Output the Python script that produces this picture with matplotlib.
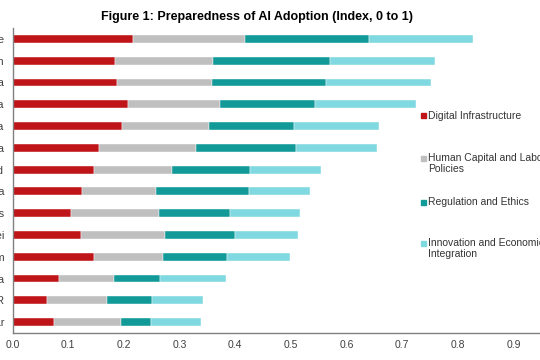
import matplotlib.pyplot as plt
from matplotlib.patches import Rectangle

plt.rcParams['font.family'] = ['Liberation Sans', 'DejaVu Sans']

# economies, top to bottom
countries = ['Singapore', 'Japan', 'Korea', 'Australia', 'China', 'Malaysia',
             'Thailand', 'Indonesia', 'Philippines', 'Brunei', 'Viet Nam',
             'Cambodia', 'Lao PDR', 'Myanmar']

digital = [0.216, 0.184, 0.188, 0.207, 0.197, 0.155, 0.146, 0.125, 0.105, 0.123, 0.146, 0.084, 0.062, 0.075]
human = [0.202, 0.176, 0.170, 0.166, 0.156, 0.175, 0.141, 0.133, 0.158, 0.151, 0.124, 0.098, 0.108, 0.120]
regulation = [0.222, 0.210, 0.205, 0.170, 0.153, 0.179, 0.140, 0.167, 0.128, 0.126, 0.115, 0.083, 0.081, 0.054]
innovation = [0.187, 0.189, 0.189, 0.182, 0.152, 0.146, 0.127, 0.109, 0.125, 0.113, 0.114, 0.119, 0.091, 0.090]

series_names = ['Digital Infrastructure', 'Human Capital and Labour\nPolicies',
                'Regulation and Ethics', 'Innovation and Economic\nIntegration']
colors = ['#C01518', '#BFBFBF', '#119A98', '#80D8E0']

fig = plt.figure(figsize=(5.4, 3.6), dpi=100)
# axes run past the right edge, like the cropped original
ax = fig.add_axes([12.5 / 540, 27 / 360, 556.7 / 540, 305 / 360])

y = list(range(len(countries)))
left = [0.0] * len(countries)
for vals, col in zip([digital, human, regulation, innovation], colors):
    ax.barh(y, vals, left=left, height=0.36, color=col, edgecolor='white', linewidth=0.3)
    left = [a + b for a, b in zip(left, vals)]

ax.set_ylim(len(countries) - 0.5, -0.5)
ax.set_xlim(0, 1)
xt = [i / 10 for i in range(10)]
ax.set_xticks(xt)
ax.set_xticklabels(['%.1f' % v for v in xt])
ax.set_yticks(y)
ax.set_yticklabels(countries)
ax.tick_params(axis='x', length=0, labelsize=7.5, labelcolor='#404040', pad=5)
ax.tick_params(axis='y', length=0, labelsize=8, labelcolor='#404040', pad=6)
for s in ['top', 'right']:
    ax.spines[s].set_visible(False)
for s in ['left', 'bottom']:
    ax.spines[s].set_color('#808080')
    ax.spines[s].set_linewidth(1.0)

fig.text(257 / 540, 1 - 17 / 360, 'Figure 1: Preparedness of AI Adoption (Index, 0 to 1)',
         ha='center', va='center', fontsize=9, fontweight='bold', color='#000000')

# legend drawn by hand
leg_y = [116, 158, 202, 243]
for name, col, yy in zip(series_names, colors, leg_y):
    fig.add_artist(Rectangle((421 / 540, 1 - (yy + 2.5) / 360), 5 / 540, 5 / 360,
                             transform=fig.transFigure, color=col))
    fig.text(428 / 540, 1 - (yy - 5) / 360, name, ha='left', va='top',
             fontsize=7.5, color='#333333', linespacing=1.15)

fig.savefig('out.png', dpi=100)
